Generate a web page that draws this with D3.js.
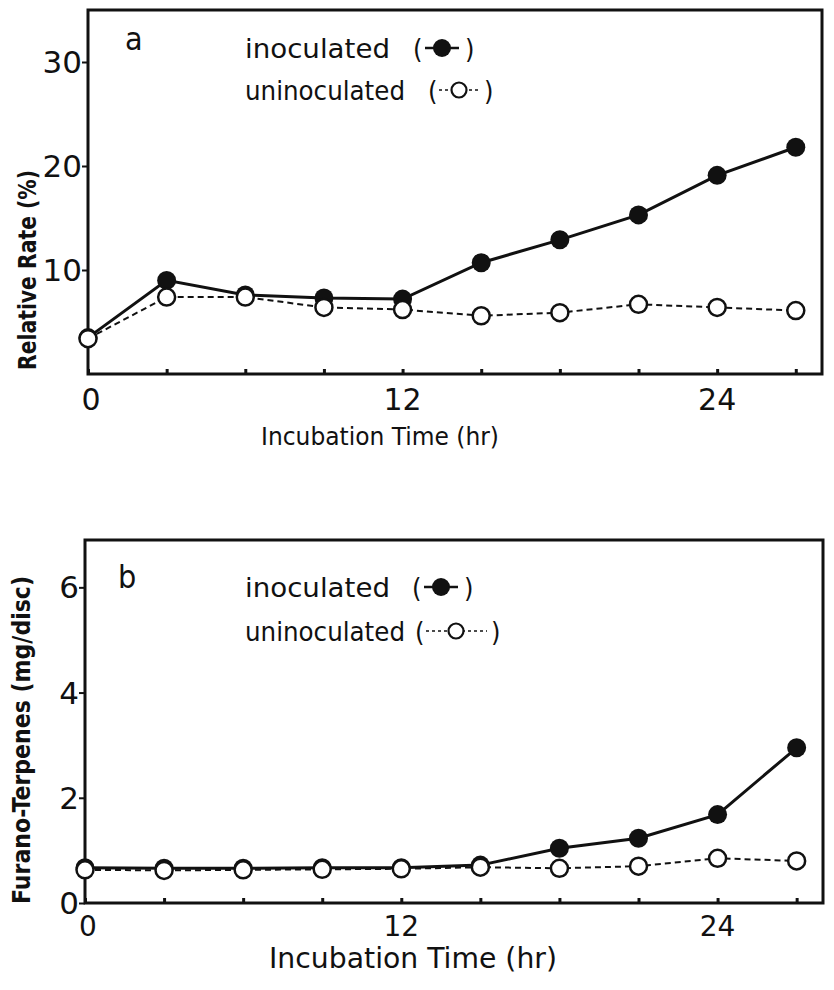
<!DOCTYPE html>
<html><head><meta charset="utf-8">
<script src="https://cdn.jsdelivr.net/npm/d3@7"></script>
<style>
body{margin:0;background:#fff;}
svg text{font-family:"DejaVu Sans Condensed","Liberation Sans Narrow","Liberation Sans",sans-serif;fill:#111;}
svg text.tk{font-family:"DejaVu Sans",sans-serif;}
</style></head><body>
<svg id="c" width="834" height="990"></svg>
<script>
// ---- data ----
const hours = [0, 3, 6, 9, 12, 15, 18, 21, 24, 27];
const xTickLabels = [0, 12, 24];
const rateInoculated   = [3.5, 9.0, 7.6, 7.3, 7.2, 10.7, 12.9, 15.3, 19.1, 21.8];
const rateUninoculated = [3.4, 7.4, 7.4, 6.4, 6.2, 5.6, 5.9, 6.7, 6.4, 6.1];
const rateTicks = [10, 20, 30];
const terpInoculated   = [0.67, 0.66, 0.66, 0.67, 0.67, 0.72, 1.04, 1.23, 1.68, 2.95];
const terpUninoculated = [0.63, 0.62, 0.63, 0.64, 0.65, 0.68, 0.66, 0.70, 0.85, 0.80];
const terpTicks = [0, 2, 4, 6];

const svg = d3.select("#c");

function panel(o){
  const g = svg.append("g");
  const x = d3.scaleLinear().domain([0, 28]).range([o.left, o.right]);
  const y = d3.scaleLinear().domain([0, o.yMax]).range([o.bottom, o.top]);
  // frame
  g.append("rect").attr("x", o.left).attr("y", o.top)
    .attr("width", o.right - o.left).attr("height", o.bottom - o.top)
    .attr("fill", "none").attr("stroke", "#111").attr("stroke-width", 3);
  // x minor ticks (inside) every 3 h
  const xAx = d3.axisBottom(x).tickValues(hours).tickSize(-5).tickFormat("");
  const xg = g.append("g").attr("transform", `translate(0,${o.bottom})`).call(xAx);
  xg.select(".domain").remove();
  xg.selectAll("line").attr("stroke", "#111").attr("stroke-width", 3);
  // x labels
  g.selectAll(".xl").data(xTickLabels).join("text").attr("class", "tk")
    .attr("x", d => x(d) + (d === 0 ? 3 : 0)).attr("y", o.bottom + o.xlabDy)
    .attr("text-anchor", "middle").attr("font-size", o.xlabSize)
    .text(d => d);
  // y ticks
  const yAx = d3.axisLeft(y).tickValues(o.yTicks).tickSize(6).tickFormat("");
  const yg = g.append("g").attr("transform", `translate(${o.left},0)`).call(yAx);
  yg.select(".domain").remove();
  yg.selectAll("line").attr("stroke", "#111").attr("stroke-width", 2);
  g.selectAll(".yl").data(o.yTicks).join("text").attr("class", "tk")
    .attr("x", o.left - 6).attr("y", d => y(d) + 11)
    .attr("text-anchor", "end").attr("font-size", 31)
    .text(d => d);
  // axis titles
  g.append("text").attr("x", o.xTitleX).attr("y", o.xTitleY)
    .attr("text-anchor", "middle").attr("font-size", o.xTitleSize)
    .attr("textLength", o.xTitleLen).attr("lengthAdjust", "spacingAndGlyphs")
    .text("Incubation Time (hr)");
  g.append("text").attr("transform", `translate(${o.yTitleX},${o.yTitleY}) rotate(-90)`)
    .attr("text-anchor", "middle").attr("font-size", o.yTitleSize)
    .attr("textLength", o.yTitleLen).attr("lengthAdjust", "spacingAndGlyphs")
    .attr("font-weight", "bold")
    .text(o.yTitle);
  // lines
  const line = d3.line().x((d, i) => x(hours[i])).y(d => y(d));
  g.append("path").datum(o.un).attr("d", line).attr("fill", "none")
    .attr("stroke", "#111").attr("stroke-width", 2).attr("stroke-dasharray", "6,4");
  g.append("path").datum(o.ino).attr("d", line).attr("fill", "none")
    .attr("stroke", "#111").attr("stroke-width", 3);
  g.selectAll(".ci").data(o.ino).join("circle")
    .attr("cx", (d, i) => x(hours[i])).attr("cy", d => y(d)).attr("r", 9.5)
    .attr("fill", "#111");
  g.selectAll(".cu").data(o.un).join("circle")
    .attr("cx", (d, i) => x(hours[i])).attr("cy", d => y(d)).attr("r", 8.5)
    .attr("fill", "#fff").attr("stroke", "#111").attr("stroke-width", 2.5);
  // panel letter
  g.append("text").attr("x", o.letterX).attr("y", o.letterY)
    .attr("font-size", 32).text(o.letter);
  // legend
  const lx = o.legX, ly1 = o.legY, ly2 = o.legY + o.legGap;
  g.append("text").attr("x", lx).attr("y", ly1).attr("font-size", 27)
    .attr("textLength", 145).attr("lengthAdjust", "spacingAndGlyphs").text("inoculated");
  g.append("text").attr("x", lx).attr("y", ly2).attr("font-size", 27)
    .attr("textLength", 160).attr("lengthAdjust", "spacingAndGlyphs").text("uninoculated");
  // legend symbol 1
  const p1 = o.sym1;
  g.append("text").attr("x", p1).attr("y", ly1).attr("font-size", 27).text("(");
  g.append("line").attr("x1", p1 + 12).attr("x2", p1 + 46).attr("y1", ly1 - 10).attr("y2", ly1 - 10)
    .attr("stroke", "#111").attr("stroke-width", 2.5);
  g.append("circle").attr("cx", p1 + 29).attr("cy", ly1 - 10).attr("r", 9).attr("fill", "#111");
  g.append("text").attr("x", p1 + 52).attr("y", ly1).attr("font-size", 27).text(")");
  // legend symbol 2
  const p2 = o.sym2;
  g.append("text").attr("x", p2).attr("y", ly2).attr("font-size", 27).text("(");
  g.append("line").attr("x1", p2 + 11).attr("x2", p2 + o.sym2w - 10).attr("y1", ly2 - 10).attr("y2", ly2 - 10)
    .attr("stroke", "#111").attr("stroke-width", 1.5).attr("stroke-dasharray", "3,3");
  g.append("circle").attr("cx", p2 + o.sym2w / 2).attr("cy", ly2 - 10).attr("r", 7.5)
    .attr("fill", "#fff").attr("stroke", "#111").attr("stroke-width", 2.2);
  g.append("text").attr("x", p2 + o.sym2w - 6).attr("y", ly2).attr("font-size", 27).text(")");
}

panel({left: 88, right: 822, top: 10, bottom: 374, yMax: 35, yTicks: rateTicks,
  ino: rateInoculated, un: rateUninoculated, xlabDy: 36, xlabSize: 30,
  xTitleX: 380, xTitleY: 445, xTitleSize: 25, xTitleLen: 238,
  yTitleX: 36, yTitleY: 270, yTitleSize: 24, yTitleLen: 200, yTitle: "Relative Rate (%)",
  letter: "a", letterX: 125, letterY: 50,
  legX: 245, legY: 58, legGap: 42, sym1: 413, sym2: 428, sym2w: 62});

panel({left: 85, right: 823, top: 540, bottom: 903, yMax: 6.9, yTicks: terpTicks,
  ino: terpInoculated, un: terpUninoculated, xlabDy: 33, xlabSize: 28,
  xTitleX: 413, xTitleY: 968, xTitleSize: 29, xTitleLen: 288,
  yTitleX: 30, yTitleY: 740, yTitleSize: 25, yTitleLen: 328, yTitle: "Furano-Terpenes (mg/disc)",
  letter: "b", letterX: 118, letterY: 588,
  legX: 245, legY: 597, legGap: 44, sym1: 412, sym2: 415, sym2w: 82});
</script>
</body></html>
